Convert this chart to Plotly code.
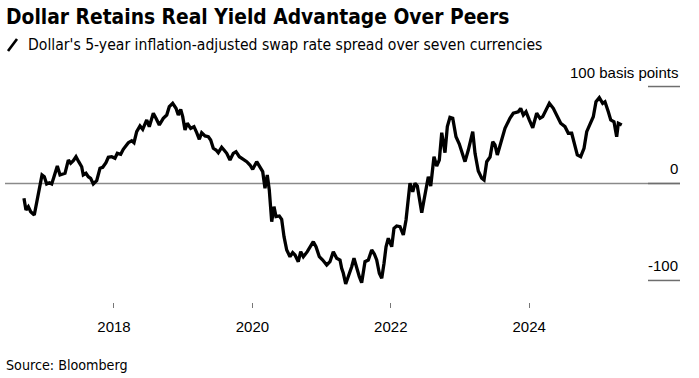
import plotly.graph_objects as go

# Decimal-year positions and spread values (basis points)
years = [
    2016.699, 2016.728, 2016.762, 2016.796, 2016.848, 2016.883, 2016.921, 2016.960, 2016.993,
    2017.027, 2017.065, 2017.100, 2017.133, 2017.181, 2017.220, 2017.292, 2017.340, 2017.374, 2017.412,
    2017.451, 2017.490, 2017.533, 2017.556, 2017.595, 2017.629, 2017.663, 2017.701, 2017.750, 2017.798,
    2017.837, 2017.884, 2017.918, 2017.967, 2018.014, 2018.048, 2018.097, 2018.134, 2018.207, 2018.256,
    2018.289, 2018.328, 2018.376, 2018.415, 2018.473, 2018.510, 2018.568, 2018.607, 2018.655, 2018.712,
    2018.762, 2018.799, 2018.848, 2018.896, 2018.929, 2018.964, 2018.993, 2019.026, 2019.059, 2019.108,
    2019.156, 2019.195, 2019.233, 2019.267, 2019.315, 2019.363, 2019.397, 2019.435, 2019.474, 2019.507,
    2019.556, 2019.590, 2019.629, 2019.676, 2019.724, 2019.763, 2019.811, 2019.869, 2019.918, 2019.965,
    2020.004, 2020.062, 2020.110, 2020.149, 2020.182, 2020.215, 2020.244, 2020.264, 2020.279, 2020.312,
    2020.341, 2020.389, 2020.423, 2020.457, 2020.496, 2020.543, 2020.582, 2020.616, 2020.663, 2020.698,
    2020.736, 2020.793, 2020.832, 2020.880, 2020.919, 2020.967, 2021.016, 2021.074, 2021.121, 2021.169,
    2021.218, 2021.266, 2021.290, 2021.314, 2021.348, 2021.386, 2021.435, 2021.468, 2021.507, 2021.545,
    2021.579, 2021.627, 2021.675, 2021.724, 2021.762, 2021.796, 2021.834, 2021.869, 2021.902, 2021.931,
    2021.964, 2022.013, 2022.046, 2022.085, 2022.133, 2022.181, 2022.220, 2022.253, 2022.277, 2022.317,
    2022.350, 2022.383, 2022.412, 2022.447, 2022.480, 2022.519, 2022.542, 2022.577, 2022.624, 2022.663,
    2022.701, 2022.736, 2022.783, 2022.817, 2022.855, 2022.895, 2022.942, 2022.990, 2023.025, 2023.072,
    2023.120, 2023.184, 2023.217, 2023.264, 2023.314, 2023.347, 2023.386, 2023.434, 2023.473, 2023.506,
    2023.539, 2023.603, 2023.650, 2023.723, 2023.770, 2023.842, 2023.877, 2023.915, 2023.954, 2024.001,
    2024.051, 2024.108, 2024.156, 2024.195, 2024.243, 2024.291, 2024.348, 2024.397, 2024.455, 2024.517,
    2024.565, 2024.614, 2024.662, 2024.695, 2024.744, 2024.792, 2024.831, 2024.879, 2024.926, 2024.965,
    2025.013, 2025.062, 2025.095, 2025.143, 2025.178, 2025.225, 2025.264, 2025.288, 2025.337,
]
spread_bp = [
    -15.3, -27.3, -23.9, -29.1, -32.5, -20.1, -8.5, 8.8, 7.0,
    -0.5, 0.8, -0.5, 7.0, 18.0, 8.8, 10.5, 24.2, 20.8, 23.5,
    27.6, 22.5, 17.3, 8.8, 10.5, 7.0, 5.4, -0.5, 2.9, 15.7,
    16.7, 21.4, 27.0, 27.6, 26.0, 31.1, 30.1, 35.3, 42.1, 44.1,
    42.1, 53.4, 59.3, 55.9, 65.5, 58.6, 72.4, 67.2, 60.3, 67.2,
    70.6, 79.2, 82.7, 77.5, 70.6, 76.5, 68.9, 55.2, 62.1, 56.9,
    58.6, 52.4, 45.6, 52.4, 49.0, 48.2, 44.8, 36.3, 34.5, 31.8,
    37.3, 34.5, 31.1, 24.2, 31.1, 32.8, 27.6, 24.9, 22.5, 19.1,
    14.6, 22.5, 17.3, 12.2, -4.9, 8.8, -6.7, -23.9, -39.4, -23.9,
    -34.2, -33.5, -36.9, -54.8, -68.6, -75.5, -71.3, -73.7, -80.6, -70.3,
    -75.5, -70.3, -65.2, -60.0, -65.2, -75.5, -78.9, -84.0, -80.6, -70.3,
    -77.1, -78.9, -87.4, -92.6, -103.6, -96.1, -85.8, -77.1, -87.4, -96.1,
    -102.3, -80.6, -78.9, -68.6, -72.7, -78.9, -92.6, -97.7, -82.3, -65.2,
    -56.5, -65.2, -46.2, -43.8, -44.5, -53.1, -37.6, -17.0, 0.2, -8.5,
    0.2, -2.6, -17.0, -30.1, -17.0, -3.3, 7.0, -2.6, 27.6, 18.0,
    24.2, 52.4, 31.8, 58.6, 68.2, 67.2, 48.2, 40.7, 32.8, 22.5,
    34.5, 53.4, 31.1, 12.9, 5.4, 3.6, 22.5, 27.3, 43.1, 39.7,
    29.4, 44.8, 56.9, 67.5, 72.4, 74.0, 77.5, 70.6, 74.0, 65.5,
    57.5, 72.4, 67.2, 68.9, 75.8, 82.7, 77.5, 70.6, 62.1, 58.6,
    51.8, 51.8, 36.3, 29.4, 27.6, 36.3, 53.4, 60.3, 68.9, 84.3,
    88.5, 82.7, 84.3, 74.0, 65.5, 63.7, 48.2, 62.1, 60.3,
]

x_tick_vals = [2018, 2020, 2022, 2024]
x_tick_text = ["2018", "2020", "2022", "2024"]
y_tick_vals = [100, 0, -100]
y_tick_text = ["100 basis points", "0", "-100"]

title = "Dollar Retains Real Yield Advantage Over Peers"
subtitle = "Dollar's 5-year inflation-adjusted swap rate spread over seven currencies"
source = "Source: Bloomberg"

W, H = 699, 378
ML, MR, MT, MB = 5, 19, 55, 76
plot_h = H - MT - MB
plot_w = W - ML - MR


def py(p):
    return (H - MB - p) / plot_h


def px(p):
    return (p - ML) / plot_w


NARROW = "DejaVu Sans Condensed, DejaVu Sans, sans-serif"
REG = "Liberation Sans, Arial, sans-serif"

fig = go.Figure()
fig.add_trace(go.Scatter(
    x=years, y=spread_bp, mode="lines",
    line=dict(color="#000000", width=3.3), hoverinfo="skip", showlegend=False,
))

shapes = [
    dict(type="line", xref="paper", yref="y", x0=0, x1=1, y0=0, y1=0,
         line=dict(color="#8a8a8a", width=1.5), layer="below"),
]
for v in y_tick_vals:
    shapes.append(dict(type="line", xref="paper", yref="y", x0=px(648), x1=1, y0=v, y1=v,
                       line=dict(color="#6e6e6e", width=1.5)))
# slash icon next to subtitle
shapes.append(dict(type="line", xref="paper", yref="paper", x0=px(8), x1=px(17),
                   y0=py(51), y1=py(39), line=dict(color="#000000", width=2.6)))

annotations = [
    dict(text="<b>" + title + "</b>", xref="paper", yref="paper", x=px(4), y=py(17),
         xanchor="left", yanchor="middle", showarrow=False,
         font=dict(family=NARROW, size=20.8, color="#000000")),
    dict(text=subtitle, xref="paper", yref="paper", x=px(26), y=py(45),
         xanchor="left", yanchor="middle", showarrow=False,
         font=dict(family=NARROW, size=15.6, color="#000000")),
    dict(text=source, xref="paper", yref="paper", x=px(4), y=py(365),
         xanchor="left", yanchor="middle", showarrow=False,
         font=dict(family=NARROW, size=14.2, color="#000000")),
]
for v, t in zip(y_tick_vals, y_tick_text):
    annotations.append(dict(text=t, xref="paper", yref="y", x=1, y=v, xanchor="right",
                            yanchor="bottom", yshift=4, showarrow=False,
                            font=dict(family=REG, size=15, color="#000000")))

fig.update_layout(
    width=W, height=H,
    margin=dict(l=ML, r=MR, t=MT, b=MB),
    paper_bgcolor="#ffffff", plot_bgcolor="#ffffff",
    xaxis=dict(range=[2016.425, 2026.179], tickvals=x_tick_vals, ticktext=x_tick_text,
               showgrid=False, zeroline=False, showline=False,
               ticks="outside", ticklen=5, tickwidth=1, tickcolor="#777777",
               ticklabelstandoff=6,
               tickfont=dict(family=REG, size=15, color="#000000"), fixedrange=True),
    yaxis=dict(range=[-122.2, 132.5], showgrid=False, zeroline=False, showline=False,
               showticklabels=False, ticks="", fixedrange=True),
    shapes=shapes, annotations=annotations,
)

fig.write_html("out.html", config={"displayModeBar": False},
               post_script="document.body.style.margin='0';")
